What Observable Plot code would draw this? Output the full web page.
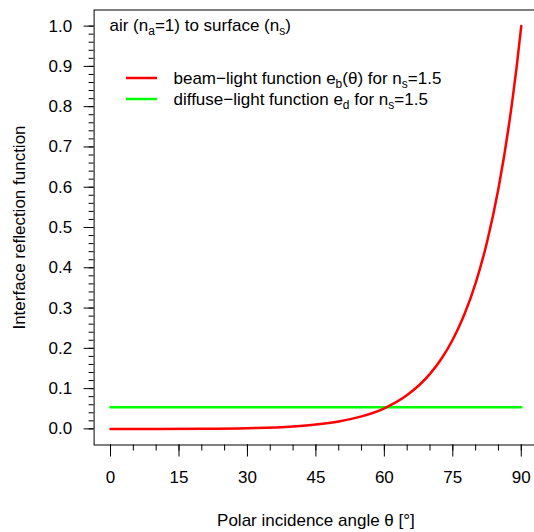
<!DOCTYPE html>
<html><head><meta charset="utf-8">
<script src="https://cdn.jsdelivr.net/npm/d3@7"></script>
<script src="https://cdn.jsdelivr.net/npm/@observablehq/plot@0.6"></script>
<style>
html,body{margin:0;padding:0;background:#fff;overflow:hidden}
</style>
</head><body><div id="chart"></div>
<script>
// ---- data ----
const theta = [0, 10, 20, 30, 40, 45, 50, 55, 60, 65, 70, 72.5, 75, 77.5, 80, 82.5, 85, 87.5, 88, 89, 90];
const beamValues = [0, 0.0000, 0.0003, 0.0016, 0.0060, 0.0107, 0.0184, 0.0310, 0.0512, 0.0839, 0.1365, 0.1740, 0.2219, 0.2833, 0.3622, 0.4641, 0.5967, 0.7703, 0.8112, 0.9002, 1.0];
const diffuseTheta = [0, 90];
const diffuseValues = [0.054, 0.054];
const xMajorTicks = [0, 15, 30, 45, 60, 75, 90];
const xMinorTicks = [0, 5, 10, 15, 20, 25, 30, 35, 40, 45, 50, 55, 60, 65, 70, 75, 80, 85, 90];
const yMajorTicks = [0, 0.1, 0.2, 0.3, 0.4, 0.5, 0.6, 0.7, 0.8, 0.9, 1.0];
const yMinorTicks = [0, 0.02, 0.04, 0.06, 0.08, 0.1, 0.12, 0.14, 0.16, 0.18, 0.2, 0.22, 0.24, 0.26, 0.28, 0.3, 0.32, 0.34, 0.36, 0.38, 0.4, 0.42, 0.44, 0.46, 0.48, 0.5, 0.52, 0.54, 0.56, 0.58, 0.6, 0.62, 0.64, 0.66, 0.68, 0.7, 0.72, 0.74, 0.76, 0.78, 0.8, 0.82, 0.84, 0.86, 0.88, 0.9, 0.92, 0.94, 0.96, 0.98, 1.0];
const annotation = "air (n_{a}=1) to surface (n_{s})";
const legendLabels = ["beam\u2212light function e_{b}(\u03b8) for n_{s}=1.5", "diffuse\u2212light function e_{d} for n_{s}=1.5"];
const legendColors = ["#ff0000", "#00ff00"];
const xLabel = "Polar incidence angle \u03b8 [\u00b0]";
const yLabel = "Interface reflection function";

// ---- build tables ----
const beamRows = theta.map((t, i) => ({theta: t, e: beamValues[i]}));
const diffuseRows = diffuseTheta.map((t, i) => ({theta: t, e: diffuseValues[i]}));

const W = 534, H = 532;
const mTop = 9.5, mLeft = 93.6, mBottom = 87.5, mRight = -3.2;

const chart = Plot.plot({
  width: W, height: H,
  marginTop: mTop, marginLeft: mLeft, marginBottom: mBottom, marginRight: mRight,
  style: {fontFamily: "'Liberation Sans', Arial, Helvetica, sans-serif", fontSize: "17px", background: "white", color: "black", overflow: "hidden"},
  x: {domain: [-3.6, 93.6]},
  y: {domain: [-0.04, 1.04]},
  marks: [
    Plot.frame({stroke: "black", strokeWidth: 1}),
    Plot.axisX(xMinorTicks, {anchor: "bottom", tickSize: 6, tickFormat: () => "", label: null, strokeWidth: 1}),
    Plot.axisX(xMajorTicks, {anchor: "bottom", tickSize: 12, tickPadding: 14, tickFormat: d => String(d), label: null, strokeWidth: 1}),
    Plot.axisY(yMinorTicks, {anchor: "left", tickSize: 5, tickFormat: () => "", label: null, strokeWidth: 1}),
    Plot.axisY(yMajorTicks, {anchor: "left", tickSize: 10, tickPadding: 12, tickFormat: d3.format(".1f"), label: null, strokeWidth: 1}),
    Plot.line(diffuseRows, {x: "theta", y: "e", stroke: legendColors[1], strokeWidth: 2.5}),
    Plot.line(beamRows, {x: "theta", y: "e", stroke: legendColors[0], strokeWidth: 2.5, curve: "monotone-x"}),
    Plot.text([xLabel], {frameAnchor: "bottom", dy: 75.5, lineAnchor: "middle", textAnchor: "middle", fill: "black"}),
    Plot.text([yLabel], {frameAnchor: "left", rotate: -90, dx: -74.6, lineAnchor: "middle", textAnchor: "middle", fill: "black"}),
    Plot.text([annotation], {frameAnchor: "top-left", dx: 109 - mLeft, dy: 25 - mTop, textAnchor: "start", lineAnchor: "middle", fill: "black"}),
    Plot.text([legendLabels[0]], {frameAnchor: "top-left", dx: 173 - mLeft, dy: 78 - mTop, textAnchor: "start", lineAnchor: "middle", fill: "black"}),
    Plot.text([legendLabels[1]], {frameAnchor: "top-left", dx: 173 - mLeft, dy: 99 - mTop, textAnchor: "start", lineAnchor: "middle", fill: "black"})
  ]
});

// subscripts: turn "_{...}" into lowered, smaller tspans
d3.select(chart).selectAll("text").each(function() {
  const s = this.textContent;
  if (!s.includes("_{")) return;
  const parts = s.split(/(_\{[^}]*\})/).filter(p => p.length);
  this.textContent = "";
  let lowered = false;
  for (const p of parts) {
    const ts = document.createElementNS("http://www.w3.org/2000/svg", "tspan");
    if (p.startsWith("_{")) {
      ts.textContent = p.slice(2, -1);
      ts.setAttribute("font-size", "12px");
      ts.setAttribute("dy", "4");
      lowered = true;
    } else {
      ts.textContent = p;
      if (lowered) { ts.setAttribute("dy", "-4"); lowered = false; }
    }
    this.appendChild(ts);
  }
});

// legend swatches
const svg = d3.select(chart);
const swY = [78, 99];
legendColors.forEach((c, i) => {
  svg.append("line").attr("x1", 126).attr("x2", 157).attr("y1", swY[i]).attr("y2", swY[i])
    .attr("stroke", c).attr("stroke-width", 2.5);
});

document.getElementById("chart").appendChild(chart);
</script>
</body></html>
